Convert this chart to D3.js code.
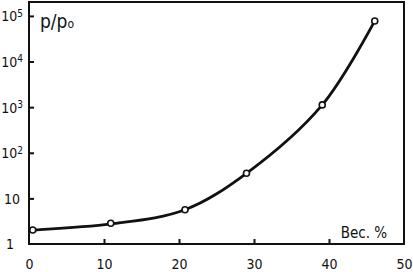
<!DOCTYPE html>
<html><head><meta charset="utf-8">
<script src="https://cdn.jsdelivr.net/npm/d3@7"></script>
<style>body{margin:0;background:#fff}svg{display:block}text{font-family:"DejaVu Sans Condensed","Liberation Sans Narrow",sans-serif;fill:#111}</style>
</head><body><svg id="c" width="413" height="272"></svg>
<script>
const pointX = [0.5, 10.9, 20.8, 29.0, 39.1, 46.1];
const pointY = [2.03, 2.84, 5.65, 35.5, 1120, 77600];
const curveX = [0, 0.5, 10.9, 20.8, 29.0, 39.1, 46.1];
const curveY = [2.0, 2.02, 2.75, 5.65, 35.5, 1120, 77600];
const xTicks = [0, 10, 20, 30, 40, 50];
const yTicks = [1, 10, 100, 1000, 10000, 100000];
const yTickExp = ["1", "10", "2", "3", "4", "5"];
const yLabel = "p/p";
const xLabel = "Вес. %";

const svg = d3.select("#c");
const L = 29, R = 404, T = 2, B = 244;
const x = d3.scaleLinear().domain([0, 50]).range([L, R]);
const y = d3.scaleLog().domain([1, Math.pow(10, 5.305)]).range([B, T]);

svg.append("rect").attr("x", L).attr("y", T).attr("width", R - L).attr("height", B - T)
  .attr("fill", "none").attr("stroke", "#111").attr("stroke-width", 2);

const xa = d3.axisBottom(x).tickValues(xTicks).tickSize(-5).tickPadding(15).tickFormat(d3.format("d"));
const gx = svg.append("g").attr("transform", `translate(0,${B})`).call(xa);
gx.select(".domain").remove();
gx.selectAll(".tick line").attr("stroke", "#111").attr("stroke-width", 2)
  .attr("display", d => (d === 0 || d === 50) ? "none" : null);
gx.selectAll(".tick text").attr("font-size", 14).attr("fill", "#111").attr("font-family", null);

const ya = d3.axisLeft(y).tickValues(yTicks).tickSize(-5).tickPadding(8).tickFormat(() => "");
const gy = svg.append("g").attr("transform", `translate(${L},0)`).call(ya);
gy.select(".domain").remove();
gy.selectAll(".tick line").attr("stroke", "#111").attr("stroke-width", 2)
  .attr("display", d => d === 1 ? "none" : null);
gy.selectAll(".tick text").remove();
gy.selectAll(".tick").each(function(d, i) {
  const t = d3.select(this).append("text").attr("font-size", 14).attr("fill", "#111")
    .attr("text-anchor", "end").attr("dy", "0.35em");
  if (i === 0) { t.attr("x", -15).text("1"); }
  else if (i === 1) { t.attr("x", -9).text("10"); }
  else {
    t.attr("x", -6);
    t.append("tspan").text("10");
    t.append("tspan").attr("dy", "-0.45em").attr("font-size", 10).text(yTickExp[i]);
  }
});

const line = d3.line().x((d, i) => x(curveX[i])).y((d, i) => y(curveY[i])).curve(d3.curveCatmullRom.alpha(0.5));
svg.append("path").datum(curveX).attr("d", line).attr("fill", "none")
  .attr("stroke", "#111").attr("stroke-width", 2.8);

svg.selectAll("circle.p").data(pointX).enter().append("circle").attr("class", "p")
  .attr("cx", d => x(d)).attr("cy", (d, i) => y(pointY[i])).attr("r", 3)
  .attr("fill", "#fff").attr("stroke", "#111").attr("stroke-width", 1.6);

const yl = svg.append("text").attr("x", 40).attr("y", 28).attr("font-size", 19);
yl.append("tspan").text(yLabel);
yl.append("tspan").attr("font-size", 12).text("o");
svg.append("text").attr("x", 364).attr("y", 238).attr("text-anchor", "middle").attr("font-size", 15).text(xLabel);
</script></body></html>
